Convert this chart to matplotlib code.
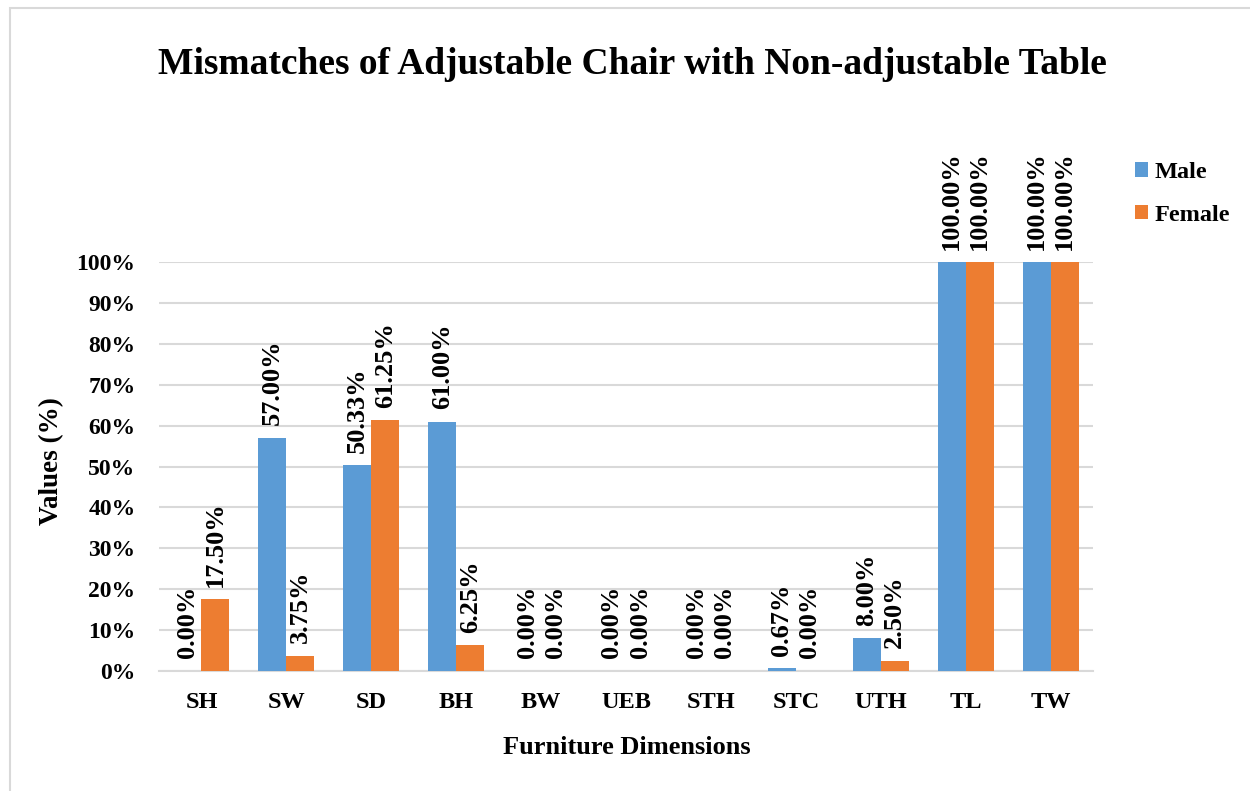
import matplotlib.pyplot as plt
import numpy as np
from matplotlib.patches import Rectangle

plt.rcParams['font.family'] = ['Liberation Serif', 'DejaVu Serif']
plt.rcParams['font.weight'] = 'bold'

dimensions = ['SH', 'SW', 'SD', 'BH', 'BW', 'UEB', 'STH', 'STC', 'UTH', 'TL', 'TW']
male = [0.00, 57.00, 50.33, 61.00, 0.00, 0.00, 0.00, 0.67, 8.00, 100.00, 100.00]
female = [17.50, 3.75, 61.25, 6.25, 0.00, 0.00, 0.00, 0.00, 2.50, 100.00, 100.00]
yticks = [0, 10, 20, 30, 40, 50, 60, 70, 80, 90, 100]

blue = '#5B9BD5'
orange = '#ED7D31'

W, H = 1250, 791
fig = plt.figure(figsize=(W / 100, H / 100), dpi=100)
ax = fig.add_axes([159 / W, 1 - 671 / H, (1093 - 159) / W, (671 - 262) / H])

x = np.arange(len(dimensions))
bw = 0.33
b1 = ax.bar(x - bw / 2, male, bw, color=blue, label='Male', zorder=3)
b2 = ax.bar(x + bw / 2, female, bw, color=orange, label='Female', zorder=3)

# value labels, rotated, on top of every bar
for bars, vals in ((b1, male), (b2, female)):
    for rect, v in zip(bars, vals):
        ax.annotate('%.2f%%' % v, (rect.get_x() + rect.get_width() / 2, v),
                    xytext=(0, 9), textcoords='offset points',
                    rotation=90, ha='center', va='bottom',
                    fontsize=19, fontweight='bold', annotation_clip=False)

ax.set_xlim(-0.5, len(dimensions) - 0.5)
ax.set_ylim(0, 100)
ax.set_yticks(yticks)
ax.set_yticklabels(['%d%%' % t for t in yticks], fontsize=17, fontweight='bold')
ax.set_xticks(x)
ax.set_xticklabels(dimensions, fontsize=17.5, fontweight='bold')
ax.tick_params(length=0)
ax.tick_params(axis='y', pad=17)
ax.tick_params(axis='x', pad=15)
ax.grid(axis='y', color='#D9D9D9', linewidth=1.5, zorder=0)
ax.set_axisbelow(True)
for s in ax.spines.values():
    s.set_visible(False)
ax.axhline(0, color='#D9D9D9', linewidth=1.5, zorder=2, clip_on=False)

ax.set_ylabel('Values (%)', fontsize=19.5, fontweight='bold', va='center')
ax.set_xlabel('Furniture Dimensions', fontsize=19, fontweight='bold', va='center')
ax.xaxis.set_label_coords((627 - 159) / (1093 - 159), -(747 - 671) / (671 - 262))
ax.yaxis.set_label_coords(-(159 - 52) / (1093 - 159), (671 - 461) / (671 - 262))

fig.text(632 / W, 1 - 65 / H, 'Mismatches of Adjustable Chair with Non-adjustable Table',
         ha='center', va='center', fontsize=27, fontweight='bold')

fig.legend(handles=[b1, b2], loc='upper left', bbox_to_anchor=(1113 / W, 1 - 140 / H),
           frameon=False, handlelength=0.55, handleheight=0.55,
           handletextpad=0.25, labelspacing=0.9, prop={'weight': 'bold', 'size': 17.5})

fig.patches.append(Rectangle((10 / W, -0.1), 1.2, 1 - 8 / H + 0.1, transform=fig.transFigure,
                             fill=False, edgecolor='#D9D9D9', linewidth=1.5))

fig.savefig('out.png', dpi=100)
